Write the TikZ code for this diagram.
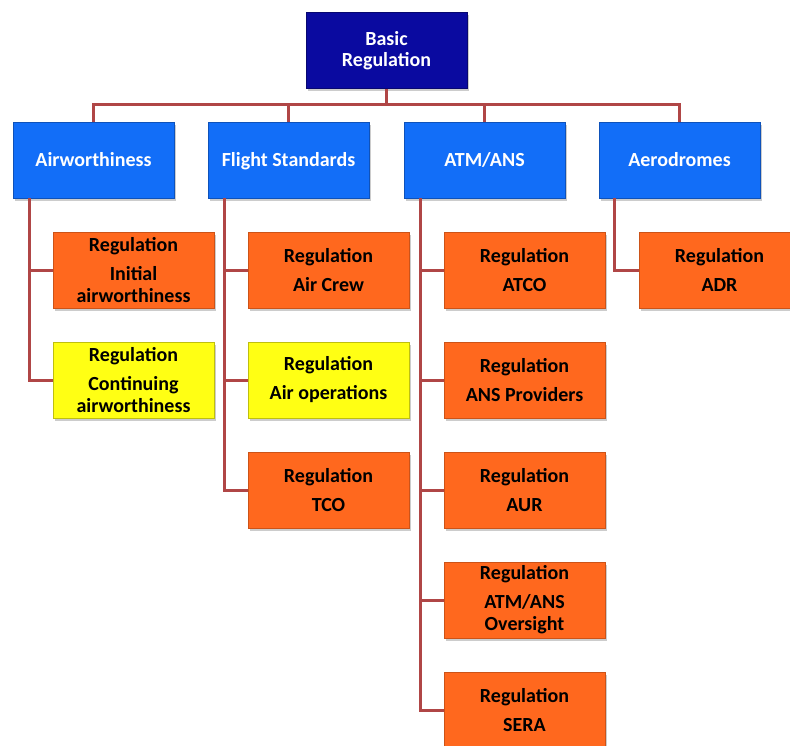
\documentclass[tikz,border=0pt]{standalone}
\usepackage{fontspec}
\setmainfont{Carlito}
\usetikzlibrary{calc}
\usetikzlibrary{shadows}
\definecolor{navybox}{RGB}{10,10,160}
\definecolor{areablue}{RGB}{18,110,248}
\definecolor{regorange}{RGB}{255,104,30}
\definecolor{regyellow}{RGB}{255,255,20}
\definecolor{linkred}{RGB}{176,70,70}

\begin{document}
\begin{tikzpicture}[
		x=1pt, y=-1pt,
		every node/.style={font=\fontsize{20}{22}\selectfont\bfseries},
		box/.style = {rectangle, minimum width=161pt, minimum height=76pt, align=center, inner sep=0pt, line width=0.6pt,
			drop shadow={shadow xshift=2pt,shadow yshift=-2.5pt,opacity=0.4}},
		topbox/.style = {box, fill=navybox, draw=navybox!70!black, text=white},
		areabox/.style = {box, fill=areablue, draw=areablue!75!black, text=white, text height=15pt, text depth=3pt},
		regbox/.style = {box, fill=regorange, draw=regorange!80!black},
		yelbox/.style = {box, fill=regyellow, draw=regyellow!75!black},
		link/.style = {draw=linkred, line width=3pt}
		]

	\clip (0,0) rectangle (790,745);
	\fill[white] (0,0) rectangle (790,745);

	\node[topbox, font=\fontsize{20}{21}\selectfont\bfseries] (basic) at (386.5,50.5) {Basic\\Regulation};

	\node[areabox] (air) at (93.5,160) {Airworthiness};
	\node[areabox] (fs) at (288.5,160) {Flight Standards};
	\node[areabox] (atm) at (484.5,160) {ATM/ANS};
	\node[areabox] (aero) at (679.5,160) {Aerodromes};

	\coordinate (bus) at (0,104);
	\draw[link] (basic.south) -- (basic.south |- bus);
	\draw[link] (air.north) -- (air.north |- bus) -- (aero.north |- bus) -- (aero.north);
	\draw[link] (fs.north) -- (fs.north |- bus);
	\draw[link] (atm.north) -- (atm.north |- bus);

	\node[regbox] (iniair) at (133.5,270) {Regulation\\[7pt]Initial\\airworthiness};
	\node[yelbox] (contair) at (133.5,380) {Regulation\\[7pt]Continuing\\airworthiness};

	\node[regbox] (aircrew) at (328.5,270) {Regulation\\[7pt]Air Crew};
	\node[yelbox] (airops) at (328.5,380) {Regulation\\[7pt]Air operations};
	\node[regbox] (tco) at (328.5,490) {Regulation\\[7pt]TCO};

	\node[regbox] (atco) at (524.5,270) {Regulation\\[7pt]ATCO};
	\node[regbox] (ansp) at (524.5,380) {Regulation\\[7pt]ANS Providers};
	\node[regbox] (aur) at (524.5,490) {Regulation\\[7pt]AUR};
	\node[regbox] (atmover) at (524.5,600) {Regulation\\[7pt]ATM/ANS\\Oversight};
	\node[regbox] (sera) at (524.5,710) {Regulation\\[7pt]SERA};

	\node[regbox] (adr) at (719.5,270) {Regulation\\[7pt]ADR};

	\coordinate (airtr) at ($(air.south west)+(17,0)$);
	\coordinate (fstr) at ($(fs.south west)+(17,0)$);
	\coordinate (atmtr) at ($(atm.south west)+(17,0)$);
	\coordinate (aerotr) at ($(aero.south west)+(16,0)$);

	\draw[link] (airtr) |- (contair.west);
	\draw[link] (airtr |- iniair.west) -- (iniair.west);

	\draw[link] (fstr) |- (tco.west);
	\draw[link] (fstr |- aircrew.west) -- (aircrew.west);
	\draw[link] (fstr |- airops.west) -- (airops.west);

	\draw[link] (atmtr) |- (sera.west);
	\draw[link] (atmtr |- atco.west) -- (atco.west);
	\draw[link] (atmtr |- ansp.west) -- (ansp.west);
	\draw[link] (atmtr |- aur.west) -- (aur.west);
	\draw[link] (atmtr |- atmover.west) -- (atmover.west);

	\draw[link] (aerotr) |- (adr.west);
\end{tikzpicture}
\end{document}
